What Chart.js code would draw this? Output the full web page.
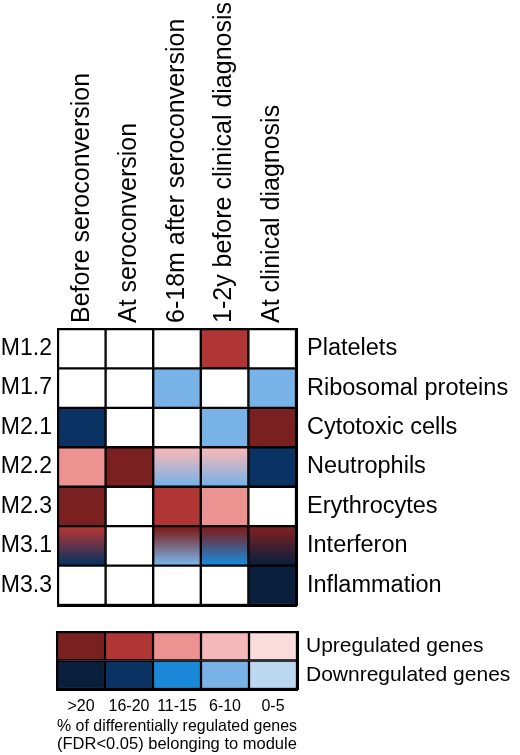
<!DOCTYPE html>
<html>
<head>
<meta charset="utf-8">
<script src="https://cdn.jsdelivr.net/npm/chart.js@4.4.1/dist/chart.umd.min.js"></script>
<style>
  html, body { margin: 0; padding: 0; background: #fff; }
  #wrap { position: relative; width: 520px; height: 755px; overflow: hidden; }
  #main { position: absolute; left: 0; top: 0; width: 520px; height: 615px; }
  #leg { position: absolute; left: 0; top: 615px; width: 520px; height: 140px; }
</style>
</head>
<body>
<div id="wrap">
  <div id="main"><canvas id="c1"></canvas></div>
  <div id="leg"><canvas id="c2"></canvas></div>
</div>
<script>
// ---- data ----
const timepoints = ['Before seroconversion', 'At seroconversion', '6-18m after seroconversion', '1-2y before clinical diagnosis', 'At clinical diagnosis'];
const modules = ['M1.2', 'M1.7', 'M2.1', 'M2.2', 'M2.3', 'M3.1', 'M3.3'];
const moduleNames = ['Platelets', 'Ribosomal proteins', 'Cytotoxic cells', 'Neutrophils', 'Erythrocytes', 'Interferon', 'Inflammation'];
const bins = ['>20', '16-20', '11-15', '6-10', '0-5'];
const legendRows = ['Upregulated genes', 'Downregulated genes'];
const upColors = ['#7b2020', '#b03535', '#ec9290', '#f4b8b8', '#fadcdc'];
const downColors = ['#0a1f3c', '#0a3262', '#1a88d8', '#78b2e6', '#bcd8f0'];

// cell codes: '' = not significant, '+bin' = upregulated, '-bin' = downregulated,
// 'top/bottom' = mixed (up and down) shown as a vertical gradient
const rowM1_2 = ['', '', '', '+16-20', ''];
const rowM1_7 = ['', '', '-6-10', '', '-6-10'];
const rowM2_1 = ['-16-20', '', '', '-6-10', '+>20'];
const rowM2_2 = ['+11-15', '+>20', '+6-10/-6-10', '+6-10/-6-10', '-16-20'];
const rowM2_3 = ['+>20', '', '+16-20', '+11-15', ''];
const rowM3_1 = ['+16-20/-16-20', '', '+>20/-6-10', '+>20/-11-15', '+>20/->20'];
const rowM3_3 = ['', '', '', '', '->20'];
const cellRows = [rowM1_2, rowM1_7, rowM2_1, rowM2_2, rowM2_3, rowM3_1, rowM3_3];

// ---- helpers ----
const FONT = "'Liberation Sans', Arial, Helvetica, sans-serif";
Chart.defaults.color = '#000';
Chart.defaults.font.family = FONT;

function colorOf(code) {
  if (!code) return '#ffffff';
  const sign = code[0];
  const idx = bins.indexOf(code.slice(1));
  return sign === '+' ? upColors[idx] : downColors[idx];
}

function cellColor(ctx) {
  const code = cellRows[ctx.datasetIndex][ctx.dataIndex];
  if (!code || code.indexOf('/') < 0) return colorOf(code);
  const parts = code.split('/');
  const c1 = colorOf(parts[0]), c2 = colorOf(parts[1]);
  const chart = ctx.chart;
  const ys = chart.scales.y;
  if (!chart.chartArea || !ys) return c1;
  const y0 = ys.getPixelForValue(ctx.datasetIndex);
  const y1 = ys.getPixelForValue(ctx.datasetIndex + 1);
  const g = chart.ctx.createLinearGradient(0, y0, 0, y1);
  g.addColorStop(0, c1);
  g.addColorStop(0.08, c1);
  g.addColorStop(0.95, c2);
  g.addColorStop(1, c2);
  return g;
}

function rowTicks(n) {
  return function (scale) {
    scale.ticks = Array.from({length: n}, (_, i) => ({value: i + 0.5}));
  };
}
function fixW(w) { return function (s) { s.width = w; s.paddingTop = 0; s.paddingBottom = 0; }; }
function fixH(h) { return function (s) { s.height = h; s.paddingLeft = 0; s.paddingRight = 0; }; }

// ---- main heatmap ----
const mainDatasets = modules.map((m, r) => ({
  label: m,
  data: timepoints.map(() => [r, r + 1]),
  backgroundColor: cellColor,
  borderColor: '#000',
  borderWidth: 1.5,
  borderSkipped: false,
  barPercentage: 1,
  categoryPercentage: 1,
  grouped: false,
  yAxisID: 'y'
}));

new Chart(document.getElementById('c1'), {
  type: 'bar',
  data: { labels: timepoints, datasets: mainDatasets },
  options: {
    responsive: true,
    maintainAspectRatio: false,
    animation: false,
    layout: { padding: { left: 0, right: 0, top: 0, bottom: 10 } },
    plugins: { legend: { display: false }, tooltip: { enabled: false } },
    scales: {
      x: {
        type: 'category',
        position: 'top',
        grid: { display: false, drawTicks: false },
        border: { display: true, width: 3, color: '#000' },
        ticks: {
          autoSkip: false, minRotation: 90, maxRotation: 90, padding: 6, labelOffset: 30,
          font: { size: 25, family: FONT }, color: '#000'
        },
        afterFit: fixH(329)
      },
      xb: {
        type: 'category',
        position: 'bottom',
        labels: timepoints,
        grid: { display: false, drawTicks: false },
        border: { display: true, width: 3, color: '#000' },
        ticks: { display: false },
        afterFit: fixH(0)
      },
      y: {
        type: 'linear', position: 'left', min: 0, max: modules.length, reverse: true,
        grid: { display: false, drawTicks: false },
        border: { display: true, width: 3, color: '#000' },
        afterBuildTicks: rowTicks(modules.length),
        ticks: {
          padding: 6, font: { size: 23, family: FONT }, color: '#000',
          callback: (v) => modules[Math.floor(v)]
        },
        afterFit: fixW(58)
      },
      yr: {
        type: 'linear', position: 'right', min: 0, max: modules.length, reverse: true,
        grid: { display: false, drawTicks: false },
        border: { display: true, width: 3, color: '#000' },
        afterBuildTicks: rowTicks(modules.length),
        ticks: {
          padding: 11, font: { size: 23.5, family: FONT }, color: '#000',
          callback: (v) => moduleNames[Math.floor(v)]
        },
        afterFit: fixW(224)
      }
    }
  }
});

// ---- colour key ----
const legendDatasets = legendRows.map((name, r) => ({
  label: name,
  data: bins.map(() => [r, r + 1]),
  backgroundColor: r === 0 ? upColors : downColors,
  borderColor: '#000',
  borderWidth: 1.5,
  borderSkipped: false,
  barPercentage: 1,
  categoryPercentage: 1,
  grouped: false,
  yAxisID: 'y'
}));

new Chart(document.getElementById('c2'), {
  type: 'bar',
  data: { labels: bins, datasets: legendDatasets },
  options: {
    responsive: true,
    maintainAspectRatio: false,
    animation: false,
    layout: { padding: 0 },
    plugins: { legend: { display: false }, tooltip: { enabled: false } },
    scales: {
      x: {
        type: 'category', position: 'bottom',
        grid: { display: false, drawTicks: false },
        border: { display: true, width: 3, color: '#000' },
        ticks: { autoSkip: false, maxRotation: 0, padding: 8, font: { size: 16, family: FONT }, color: '#000' },
        title: {
          display: true, align: 'start',
          text: ['% of differentially regulated genes', '(FDR<0.05) belonging to module'],
          font: { size: 16.5, family: FONT, lineHeight: 1.1 }, color: '#000',
          padding: { top: 0, bottom: 1 }
        },
        afterFit: fixH(66)
      },
      xt: {
        type: 'category', position: 'top', labels: bins,
        grid: { display: false, drawTicks: false },
        border: { display: true, width: 3, color: '#000' },
        ticks: { display: false },
        afterFit: fixH(17)
      },
      y: {
        type: 'linear', position: 'left', min: 0, max: 2, reverse: true,
        grid: { display: false, drawTicks: false },
        border: { display: true, width: 3, color: '#000' },
        ticks: { display: false },
        afterFit: fixW(57)
      },
      yr: {
        type: 'linear', position: 'right', min: 0, max: 2, reverse: true,
        grid: { display: false, drawTicks: false },
        border: { display: true, width: 3, color: '#000' },
        afterBuildTicks: rowTicks(legendRows.length),
        ticks: {
          padding: 9, font: { size: 21, family: FONT }, color: '#000',
          callback: (v) => legendRows[Math.floor(v)]
        },
        afterFit: fixW(223)
      }
    }
  }
});
</script>
</body>
</html>
